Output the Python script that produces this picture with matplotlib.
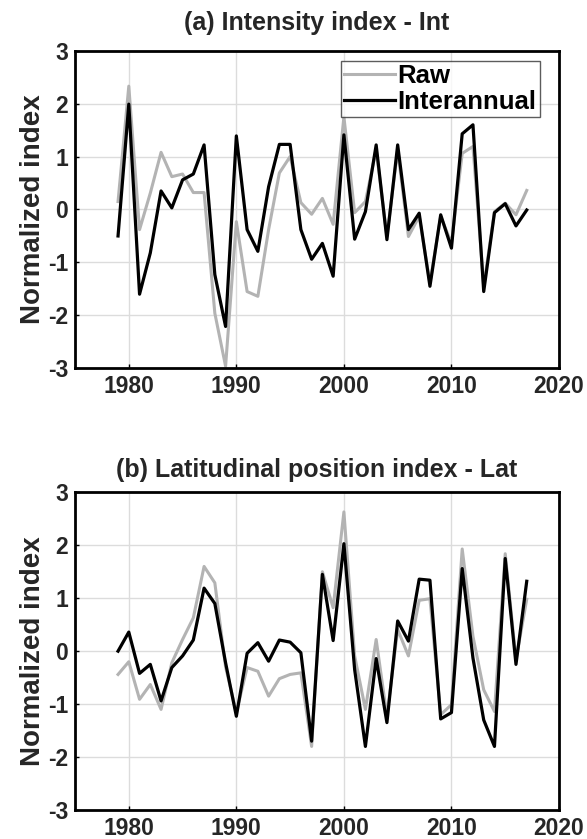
import numpy as np
import matplotlib
matplotlib.use("Agg")
import matplotlib.pyplot as plt

plt.rcParams["font.family"] = ["Liberation Sans", "DejaVu Sans"]
plt.rcParams["font.weight"] = "bold"
plt.rcParams["axes.unicode_minus"] = False

years = np.arange(1979, 2018)

# (a) Intensity index
int_raw = [0.15, 2.33, -0.38, 0.31, 1.08, 0.62, 0.67, 0.32, 0.32, -1.96,
           -2.96, -0.23, -1.55, -1.64, -0.38, 0.69, 1.00, 0.13, -0.09, 0.21,
           -0.28, 1.75, -0.06, 0.15, 1.13, -0.51, 1.13, -0.51, -0.13, -1.39,
           -0.13, -0.64, 1.06, 1.19, -1.45, -0.04, 0.12, -0.10, 0.36]
int_ia = [-0.50, 1.99, -1.60, -0.82, 0.35, 0.03, 0.56, 0.67, 1.22, -1.23,
          -2.21, 1.39, -0.38, -0.79, 0.43, 1.23, 1.23, -0.38, -0.94, -0.64,
          -1.26, 1.41, -0.56, -0.04, 1.22, -0.57, 1.22, -0.38, -0.07, -1.45,
          -0.10, -0.73, 1.43, 1.60, -1.55, -0.06, 0.11, -0.31, -0.01]

# (b) Latitudinal position index
lat_raw = [-0.44, -0.20, -0.91, -0.63, -1.10, -0.22, 0.22, 0.63, 1.60, 1.29,
           -0.30, -1.16, -0.31, -0.38, -0.85, -0.52, -0.44, -0.41, -1.80, 1.50,
           0.82, 2.63, -0.09, -1.10, 0.22, -1.23, 0.41, -0.09, 0.96, 0.99,
           -1.20, -1.01, 1.93, 0.28, -0.73, -1.14, 1.84, -0.16, 0.98]
lat_ia = [0.00, 0.36, -0.42, -0.25, -0.94, -0.31, -0.09, 0.21, 1.19, 0.90,
          -0.22, -1.23, -0.04, 0.16, -0.19, 0.21, 0.17, -0.03, -1.70, 1.45,
          0.20, 2.03, -0.35, -1.80, -0.14, -1.35, 0.57, 0.19, 1.36, 1.34,
          -1.28, -1.16, 1.56, -0.13, -1.30, -1.80, 1.75, -0.25, 1.32]

panels = [
    ("(a) Intensity index - Int", int_raw, int_ia, 0.561, True, 15),
    ("(b) Latitudinal position index - Lat", lat_raw, lat_ia, 0.0346, False, 11),
]

TXT = "#262626"

fig = plt.figure(figsize=(5.87, 8.39), dpi=100)

for title, raw, ia, bottom, show_leg, tpad in panels:
    ax = fig.add_axes([0.1278, bottom, 0.8245, 0.3786])
    ax.plot(years, raw, color="#b3b3b3", linewidth=2.2, label="Raw")
    ax.plot(years, ia, color="black", linewidth=2.3, label="Interannual")

    ax.set_xlim(1975, 2020)
    ax.set_ylim(-3, 3)
    ax.set_xticks([1980, 1990, 2000, 2010, 2020])
    ax.set_yticks([-3, -2, -1, 0, 1, 2, 3])
    ax.grid(True, color="#dcdcdc", linewidth=1.0)
    ax.set_axisbelow(True)
    ax.tick_params(direction="in", length=3, width=1, labelsize=16.5,
                   labelcolor=TXT, pad=5)
    for lab in ax.get_xticklabels() + ax.get_yticklabels():
        lab.set_fontweight("bold")
    for sp in ax.spines.values():
        sp.set_linewidth(2.0)

    ax.set_title(title, fontsize=18, fontweight="bold", color=TXT, pad=tpad)
    ax.set_ylabel("Normalized index", fontsize=20, fontweight="bold",
                  color=TXT, labelpad=1)

    if show_leg:
        leg = ax.legend(loc="upper right", bbox_to_anchor=(0.96, 0.967),
                        fontsize=18.5, frameon=True, fancybox=False,
                        handlelength=2.0, handletextpad=0.1,
                        borderpad=0.12, labelspacing=0.05, borderaxespad=0)
        leg.get_frame().set_edgecolor("#333333")
        leg.get_frame().set_linewidth(1.0)
        for t in leg.get_texts():
            t.set_fontweight("bold")
            t.set_color("black")

fig.savefig("out.png", dpi=100)
